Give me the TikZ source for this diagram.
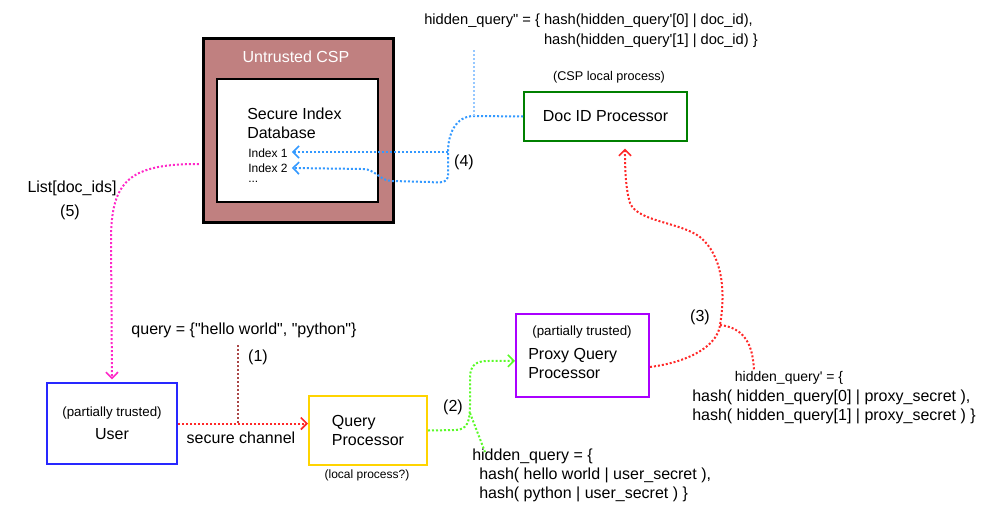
\documentclass[tikz,border=0pt]{standalone}
\usepackage{fontspec}
\setmainfont{Liberation Sans}
\usetikzlibrary{arrows.meta}

\definecolor{cspfill}{RGB}{192,128,128}
\definecolor{docgreen}{RGB}{0,128,0}
\definecolor{userblue}{RGB}{40,40,255}
\definecolor{qpyellow}{RGB}{255,212,0}
\definecolor{proxypurple}{RGB}{170,0,255}
\definecolor{redline}{RGB}{255,40,40}
\definecolor{darkredline}{RGB}{170,70,70}
\definecolor{greenline}{RGB}{90,250,40}
\definecolor{blueline}{RGB}{51,153,255}
\definecolor{lightblueline}{RGB}{150,200,255}
\definecolor{pinkline}{RGB}{255,40,200}

\begin{document}
\begin{tikzpicture}[x=0.75pt,y=-0.75pt]
\tikzset{box/.style = {draw, line width=1.5pt, inner sep=0pt}}
\tikzset{dots/.style = {line width=1.5pt, dash pattern=on 1.5pt off 1.5pt}}
\tikzset{flow/.style = {dots, -{Straight Barb[length=4.5pt,width=9pt,line width=1.2pt]}}}
\tikzset{txt/.style = {font=\fontsize{12}{14.25}\selectfont, inner sep=0pt}}
\tikzset{smalltxt/.style = {font=\fontsize{9.5}{11}\selectfont, inner sep=0pt}}

\useasboundingbox (0,0) rectangle (997,532);

% untrusted CSP with the index database
\node[box, line width=2.25pt, fill=cspfill, minimum width=142.5pt, minimum height=138pt] (csp) at (298,130) {};
\node[txt, text=white] (csplabel) at (296,57) {Untrusted CSP};
\node[box, fill=white, minimum width=120.75pt, minimum height=92.25pt] (idx) at (297.5,140.5) {};
\node[txt, align=left, anchor=west] (idxlabel) at (247,123) {Secure Index\\Database};
\node[smalltxt, font=\fontsize{9}{11}\selectfont, anchor=west] (idxa) at (248,153) {Index 1};
\node[smalltxt, font=\fontsize{9}{11}\selectfont, anchor=west] (idxb) at (248,168) {Index 2};
\node[smalltxt, font=\fontsize{9}{11}\selectfont, anchor=west] (idxc) at (248,182) {...};

% doc id processor
\node[box, draw=docgreen, minimum width=122.25pt, minimum height=36.75pt, txt] (docid) at (605.5,116.5) {Doc ID Processor};
\node[smalltxt] (docidnote) at (609,77) {(CSP local process)};
\node[txt, font=\fontsize{11}{15}\selectfont, align=left, anchor=north west] (hq2) at (424,14) {hidden\_query\textquotedbl{} = \{ hash(hidden\_query\textquotesingle[0] | doc\_id),\\\phantom{hidden\_query\textquotedbl{} = \{ }hash(hidden\_query\textquotesingle[1] | doc\_id) \}};

% user
\node[box, draw=userblue, minimum width=97.5pt, minimum height=60.75pt, txt, align=center] (user) at (112,423.5) {{\fontsize{10}{12}\selectfont(partially trusted)}\\[3pt]User};
\node[txt] (query) at (244,330) {query = \{\textquotedbl hello world\textquotedbl, \textquotedbl python\textquotedbl\}};
\node[txt] (step1) at (258,357) {(1)};
\node[txt] (channel) at (241,438) {secure channel};

% query processor
\node[box, draw=qpyellow, minimum width=88.5pt, minimum height=51.75pt, txt, align=left] (qp) at (368,430.5) {Query\\Processor};
\node[smalltxt, font=\fontsize{9}{11}\selectfont] (qpnote) at (367,475) {(local process?)};
\node[txt] (step2) at (453,407) {(2)};
\node[txt, align=left, anchor=north west] (hq) at (472,449) {hidden\_query = \{\\\hspace*{5.25pt}hash( hello world | user\_secret ),\\\hspace*{5.25pt}hash( python | user\_secret ) \}};

% proxy query processor
\node[box, draw=proxypurple, minimum width=99.75pt, minimum height=62.25pt] (proxy) at (582.5,355.5) {};
\node[smalltxt, font=\fontsize{10}{12}\selectfont] (proxynote) at (582,332) {(partially trusted)};
\node[txt, align=left, anchor=west] (proxylabel) at (528,363.5) {Proxy Query\\Processor};
\node[txt] (step3) at (700,317) {(3)};
\node[txt, align=left, anchor=north west] (hq1) at (692,371) {{\fontsize{10.5}{12}\selectfont\hspace*{32pt}hidden\_query\textquotesingle{} = \{}\\[1pt]hash( hidden\_query[0] | proxy\_secret ),\\hash( hidden\_query[1] | proxy\_secret ) \}};

% return path labels
\node[txt] (step4) at (464,162) {(4)};
\node[txt] (doclist) at (72,188) {List[doc\_ids]};
\node[txt] (step5) at (70,212) {(5)};

% junctions
\coordinate (j1) at (238,424);
\coordinate (j2) at (470,413);
\coordinate (j3) at (720,325);
\coordinate (j4) at (448,152);
\coordinate (j5) at (474,116);
\coordinate (e2) at (485,452);
\coordinate (e3) at (754,371);

% (1)
\draw[flow, redline] (user.east) -- (user.east -| qp.west);
\draw[dots, darkredline, line width=1.2pt] (j1 |- 0,345) -- (j1);

% (2)
\draw[flow, greenline] (qp.east) -- (455,430) .. controls (467,430) and (470,422) .. (470,405)
  -- (470,378) .. controls (470,365) and (476,361) .. (488,361) -- ([yshift=-4pt]proxy.west);
\draw[dots, greenline] (j2) -- (e2);

% (3)
\draw[flow, redline] ([yshift=-8.6pt]proxy.east) .. controls (690,362) and (718,345) .. (j3)
  .. controls (726,290) and (722,255) .. (700,237) .. controls (680,222) and (638,222) .. (630,203)
  .. controls (626,190) and (625,172) .. ([xshift=14.6pt,yshift=-5pt]docid.south);
\draw[dots, redline] (j3) .. controls (745,328) and (753,345) .. (e3);

% (4)
\draw[flow, blueline] (docid.west) -- (j5) .. controls (455,116) and (448,135) .. (j4) -- (448,175)
  .. controls (448,183) and (440,183) .. (430,182) -- (392,181) .. controls (380,181) and (375,169) .. (363,169)
  -- ([xshift=3pt]idxb.east);
\draw[flow, blueline] (j4) -- ([xshift=3pt]j4 -| idxa.east);
\draw[dots, lightblueline] (j5) -- (j5 |- hq2.south);

% (5)
\draw[flow, pinkline] ([yshift=-25.5pt,xshift=-2pt]csp.west) .. controls (130,164) and (111,180) .. (111,240)
  -- ([yshift=2pt]user.north);

\end{tikzpicture}
\end{document}
